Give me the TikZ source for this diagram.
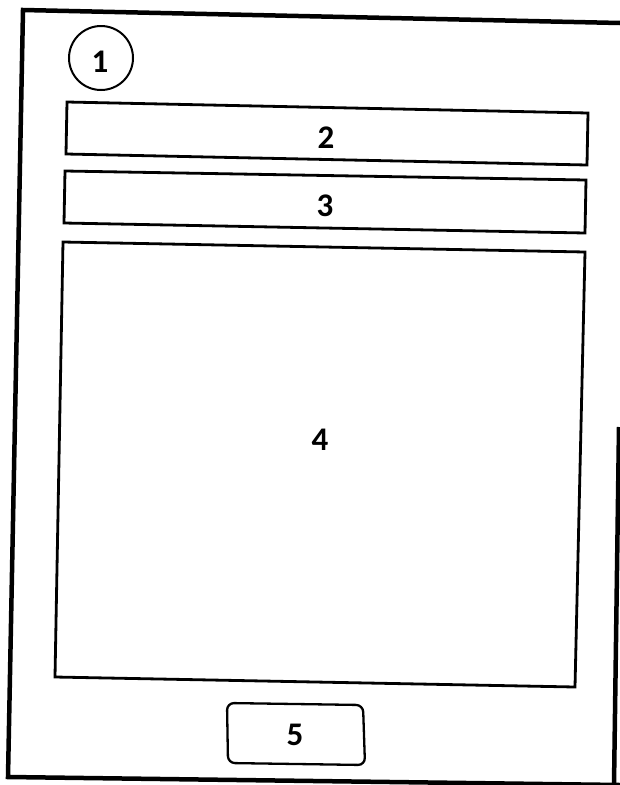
\documentclass[tikz,border=0pt]{standalone}
\usepackage{fontspec}
\setmainfont{Carlito}
\begin{document}
\begin{tikzpicture}[x=1pt,y=-1pt,
  frame/.style={line width=4.5pt,line join=miter},
  box/.style={line width=2.8pt,line join=miter},
  lbl/.style={font=\bfseries\fontsize{33}{36}\selectfont,inner sep=0pt}]
\useasboundingbox (0,0) rectangle (620,785);
% outer frame
\draw[frame] (620,23) -- (23,10) -- (8,777) -- (620,785);
\draw[frame] (619,427) -- (614,785);
% circle 1
\node[draw,circle,line width=2pt,minimum size=64pt,inner sep=0pt] (c1) at (101,58) {};
\node[lbl] (t1) at (100,62) {1};
% box 2
\draw[box] (67,102) -- (588,113) -- (587,165) -- (66,154) -- cycle;
\node[lbl] (t2) at (326,138) {2};
% box 3
\draw[box] (65,171) -- (586,180) -- (585,233) -- (64,223) -- cycle;
\node[lbl] (t3) at (325,206) {3};
% box 4
\draw[box] (63,242) -- (585,252) -- (575,687) -- (55,677) -- cycle;
\node[lbl] (t4) at (320,440) {4};
% box 5
\draw[line width=2.3pt,rounded corners=7pt] (227,703) -- (363,705) -- (365,765) -- (228,763) -- cycle;
\node[lbl] (t5) at (295,735) {5};
\end{tikzpicture}
\end{document}
